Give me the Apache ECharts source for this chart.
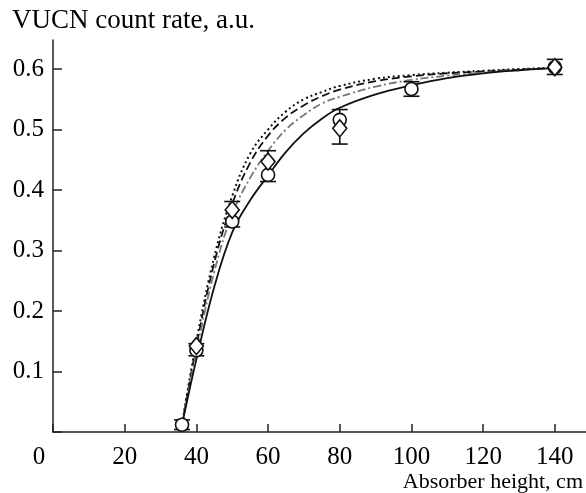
<!DOCTYPE html>
<html>
<head>
<meta charset="utf-8">
<script src="https://cdn.jsdelivr.net/npm/echarts@6/dist/echarts.min.js"></script>
<style>
html,body{margin:0;padding:0;background:#fff;}
#chart{width:586px;height:493px;}
</style>
</head>
<body>
<div id="chart"></div>
<script>
// ---- data ----
var xTicks = [0, 20, 40, 60, 80, 100, 120, 140];
var yTicks = [0.1, 0.2, 0.3, 0.4, 0.5, 0.6];

var circleX = [36, 40, 50, 60, 80, 100, 140];
var circleY = [0.012, 0.135, 0.348, 0.425, 0.516, 0.567, 0.603];

var diamondX = [40, 50, 60, 80, 140];
var diamondY = [0.142, 0.367, 0.447, 0.502, 0.603];

var errX    = [36, 40, 50, 60, 80, 100, 140];
var errLow  = [0.004, 0.126, 0.339, 0.414, 0.476, 0.555, 0.591];
var errHigh = [0.020, 0.146, 0.381, 0.465, 0.533, 0.579, 0.616];

var curveX      = [36, 40, 45, 50, 55, 60, 65, 70, 75, 80, 90, 100, 110, 120, 130, 140];
var solidY      = [0.012, 0.12, 0.24, 0.33, 0.383, 0.424, 0.463, 0.494, 0.518, 0.536, 0.558, 0.573, 0.585, 0.593, 0.598, 0.602];
var dashDotY    = [0.012, 0.132, 0.265, 0.36, 0.42, 0.465, 0.50, 0.524, 0.543, 0.554, 0.571, 0.582, 0.589, 0.594, 0.598, 0.602];
var dashedY     = [0.012, 0.142, 0.28, 0.377, 0.445, 0.49, 0.52, 0.54, 0.555, 0.566, 0.58, 0.588, 0.593, 0.596, 0.599, 0.602];
var dottedY     = [0.012, 0.15, 0.29, 0.39, 0.46, 0.50, 0.53, 0.55, 0.562, 0.572, 0.584, 0.590, 0.594, 0.597, 0.600, 0.602];

function pairs(xs, ys){ return xs.map(function(x,i){ return [x, ys[i]]; }); }

var FONT = 'Liberation Serif';
var chart = echarts.init(document.getElementById('chart'), null, {renderer:'canvas'});

function lineSeries(ys, type, color, width){
  return {
    type:'line', data: pairs(curveX, ys), smooth:0.4, showSymbol:false, symbol:'none',
    lineStyle:{color:color, width:width, type:type}, z:2, silent:true
  };
}

var option = {
  animation:false,
  grid:{left:53, right:0, top:40, bottom:61, containLabel:false},
  xAxis:{
    type:'value', min:0, max:148.7, interval:20,
    name:'Absorber height, cm', nameLocation:'end', nameGap:0,
    nameTextStyle:{fontFamily:FONT, fontSize:22, color:'#000', align:'right', verticalAlign:'top', padding:[39,3,0,0]},
    axisLine:{show:true, lineStyle:{color:'#222', width:1.5}},
    axisTick:{show:true, inside:true, length:8, lineStyle:{color:'#222', width:1.5}},
    axisLabel:{fontFamily:FONT, fontSize:25, color:'#000', margin:13, showMaxLabel:false,
      formatter:function(v){
        if (v === 0) return '{o|0}';
        return xTicks.indexOf(v) >= 0 ? String(v) : '';
      },
      rich:{o:{fontFamily:FONT, fontSize:25, color:'#000', padding:[0,28,0,0]}}
    },
    splitLine:{show:false}
  },
  yAxis:{
    type:'value', min:0, max:0.648, interval:0.1,
    name:'VUCN count rate, a.u.', nameLocation:'end', nameGap:19,
    nameTextStyle:{fontFamily:FONT, fontSize:27, color:'#000', align:'left', verticalAlign:'middle', padding:[0,0,0,-41]},
    axisLine:{show:true, lineStyle:{color:'#222', width:1.5}},
    axisTick:{show:true, inside:true, length:9, lineStyle:{color:'#222', width:1.5}},
    axisLabel:{fontFamily:FONT, fontSize:25, color:'#000', margin:9, showMaxLabel:false,
      formatter:function(v){
        var r = Math.round(v*10)/10;
        return (yTicks.indexOf(r) >= 0 && Math.abs(v-r) < 1e-6) ? r.toFixed(1) : '';
      }},
    splitLine:{show:false}
  },
  series:[
    lineSeries(dottedY, [2,3], '#111', 2),
    lineSeries(dashedY, [8,4], '#111', 1.8),
    lineSeries(dashDotY, [8,3,2,3], '#777', 1.8),
    lineSeries(solidY, 'solid', '#111', 1.8),
    {
      type:'custom', z:3, silent:true,
      data: errX.map(function(x,i){ return [x, errLow[i], errHigh[i]]; }),
      renderItem:function(params, api){
        var lo = api.coord([api.value(0), api.value(1)]);
        var hi = api.coord([api.value(0), api.value(2)]);
        var hw = 8;
        var st = {stroke:'#111', lineWidth:1.6};
        return {type:'group', children:[
          {type:'line', shape:{x1:lo[0], y1:lo[1], x2:hi[0], y2:hi[1]}, style:st},
          {type:'line', shape:{x1:lo[0]-hw, y1:lo[1], x2:lo[0]+hw, y2:lo[1]}, style:st},
          {type:'line', shape:{x1:hi[0]-hw, y1:hi[1], x2:hi[0]+hw, y2:hi[1]}, style:st}
        ]};
      }
    },
    {
      type:'scatter', z:4, silent:true, symbol:'circle', symbolSize:13,
      data: pairs(circleX, circleY),
      itemStyle:{color:'#fff', borderColor:'#111', borderWidth:1.6, opacity:1}
    },
    {
      type:'scatter', z:5, silent:true, symbol:'diamond', symbolSize:[14,17],
      data: pairs(diamondX, diamondY),
      itemStyle:{color:'#fff', borderColor:'#111', borderWidth:1.6, opacity:1}
    }
  ]
};
chart.setOption(option);
</script>
</body>
</html>
